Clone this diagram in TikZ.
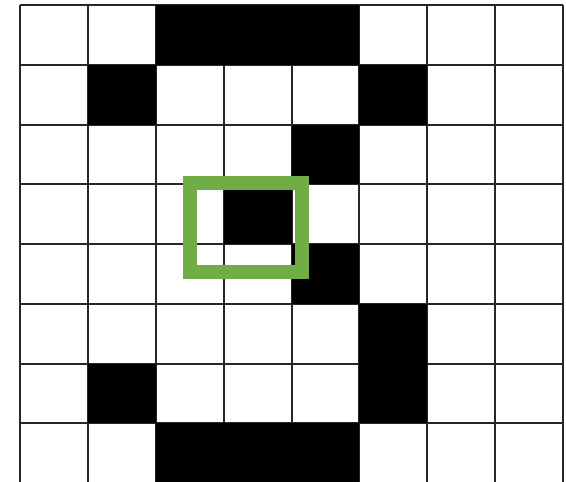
\documentclass[tikz,border=0pt]{standalone}
\definecolor{boxgreen}{HTML}{70AD47}
\tikzset{
  blackcell/.style={fill=black},
  gridline/.style={draw=black!85, line width=2pt},
  focusbox/.style={draw=boxgreen, line width=14pt}
}
\begin{document}
\begin{tikzpicture}[x=1pt,y=-1pt]
\useasboundingbox (0,0) rectangle (566,482);
\clip (0,0) rectangle (566,482);
\fill[white] (0,0) rectangle (566,482);
\def\cw{67.875}
\def\ch{59.75}
\def\xo{20}
\def\yo{5}
% grid
\foreach \i in {0,...,8}{
  \draw[gridline] ({\xo+\i*\cw},{\yo}) -- ({\xo+\i*\cw},{\yo+8*\ch});
  \draw[gridline] ({\xo},{\yo+\i*\ch}) -- ({\xo+8*\cw},{\yo+\i*\ch});
}
% black cells: {col/row}
\foreach \c/\r in {2/0,3/0,4/0, 1/1,5/1, 4/2, 3/3, 4/4, 5/5, 1/6,5/6, 2/7,3/7,4/7}{
  \fill[blackcell] ({\xo+\c*\cw},{\yo+\r*\ch}) rectangle ({\xo+(\c+1)*\cw},{\yo+(\r+1)*\ch});
}
% focus box
\draw[focusbox] (189.5,182.5) rectangle (302,272.3);
\end{tikzpicture}
\end{document}
